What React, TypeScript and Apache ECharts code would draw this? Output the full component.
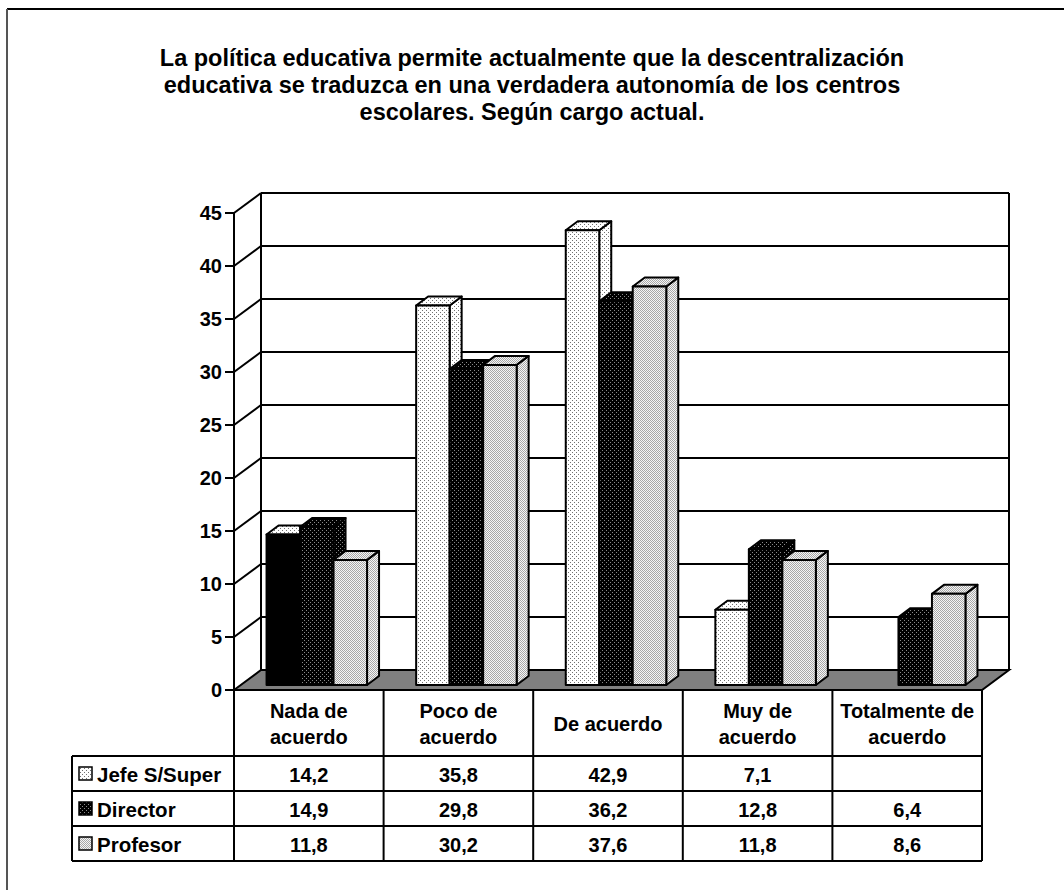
import React, { useEffect, useRef } from 'react';
import * as echarts from 'echarts';

// ---------- Data ----------
const titleLines = [
  'La política educativa permite actualmente que la descentralización',
  'educativa se traduzca en una verdadera autonomía de los centros',
  'escolares. Según cargo actual.',
];
const categories = ['Nada de\nacuerdo', 'Poco de\nacuerdo', 'De acuerdo', 'Muy de\nacuerdo', 'Totalmente de\nacuerdo'];
const seriesNames = ['Jefe S/Super', 'Director', 'Profesor'];
const jefeValues: (number | null)[] = [14.2, 35.8, 42.9, 7.1, null];
const directorValues: (number | null)[] = [14.9, 29.8, 36.2, 12.8, 6.4];
const profesorValues: (number | null)[] = [11.8, 30.2, 37.6, 11.8, 8.6];
const yTicks = [0, 5, 10, 15, 20, 25, 30, 35, 40, 45];

// ---------- Layout constants ----------
const FONT = '"Liberation Sans", Arial, Helvetica, sans-serif';
const GRID_LEFT = 234;
const GRID_RIGHT = 982;
const Y_TOP = 213;
const Y_BOTTOM = 690;
const WALL_DX = 27;
const WALL_DY = 20;
const BAR_OFF_X = 8;
const BAR_OFF_Y = 5;
const BAR_W = 33.5;
const BAR_DX = 12;
const BAR_DY = 9;
const TABLE_LEFT = 72;
const ROW_TOPS = [756, 791, 826, 861];

function makePattern(bg: string, dot: string, size: number, dots: number[][]) {
  const c = document.createElement('canvas');
  c.width = size;
  c.height = size;
  const ctx = c.getContext('2d')!;
  ctx.fillStyle = bg;
  ctx.fillRect(0, 0, size, size);
  ctx.fillStyle = dot;
  dots.forEach(([x, y]) => ctx.fillRect(x, y, 1, 1));
  return { image: c.toDataURL(), repeat: 'repeat', imageWidth: size, imageHeight: size } as any;
}

const fmt = (v: number | null) => (v == null ? '' : v.toFixed(1).replace('.', ','));

export default function App() {
  const ref = useRef<HTMLDivElement>(null);

  useEffect(() => {
    if (!ref.current) return;
    const chart = echarts.init(ref.current, undefined, { renderer: 'svg' });

    const patterns = [
      makePattern('#ffffff', '#707070', 4, [[0, 0], [2, 2]]),
      makePattern('#000000', '#8a8a8a', 4, [[0, 0], [2, 2]]),
      makePattern('#f6f6f6', '#a8a8a8', 2, [[0, 0], [1, 1]]),
    ];
    const allValues = [jefeValues, directorValues, profesorValues];

    const barSeries = allValues.map((vals, s) => ({
      type: 'custom',
      name: seriesNames[s],
      clip: false,
      encode: { x: 0, y: 1 },
      data: vals.map((v, i) => [i, v]).filter((d) => d[1] != null),
      renderItem: (params: any, api: any) => {
        const cat = api.value(0);
        const v = api.value(1);
        const base = api.coord([cat, 0]);
        const top = api.coord([cat, v]);
        const x = base[0] + BAR_OFF_X + (s - 1.5) * BAR_W;
        const yb = base[1] - BAR_OFF_Y;
        const yt = top[1] - BAR_OFF_Y;
        const fill = patterns[s];
        // the first front face in the reference renders as solid black
        const frontFill = s === 0 && cat === 0 ? '#000' : fill;
        const stroke = { stroke: '#000', lineWidth: 2, lineJoin: 'round' };
        return {
          type: 'group',
          children: [
            {
              type: 'polygon',
              shape: { points: [[x + BAR_W, yb], [x + BAR_W + BAR_DX, yb - BAR_DY], [x + BAR_W + BAR_DX, yt - BAR_DY], [x + BAR_W, yt]] },
              style: { fill, ...stroke },
            },
            {
              type: 'polygon',
              shape: { points: [[x, yt], [x + BAR_DX, yt - BAR_DY], [x + BAR_W + BAR_DX, yt - BAR_DY], [x + BAR_W, yt]] },
              style: { fill, ...stroke },
            },
            {
              type: 'rect',
              shape: { x, y: yt, width: BAR_W, height: yb - yt },
              style: { fill: frontFill, ...stroke },
            },
          ],
        };
      },
    }));

    const wallSeries = {
      type: 'custom',
      name: 'walls',
      clip: false,
      silent: true,
      encode: { x: 0, y: 1 },
      data: yTicks.map((t) => [0, t]),
      renderItem: (params: any, api: any) => {
        const cs = params.coordSys;
        const left = cs.x;
        const right = cs.x + cs.width;
        const v = api.value(1);
        const y = api.coord([0, v])[1];
        const y0 = api.coord([0, yTicks[0]])[1];
        const ls = { stroke: '#000', lineWidth: 2 };
        const children: any[] = [];
        if (v === yTicks[0]) {
          children.push({
            type: 'polygon',
            shape: { points: [[left, y], [left + WALL_DX, y - WALL_DY], [right + WALL_DX, y - WALL_DY], [right, y]] },
            style: { fill: '#808080', stroke: '#000', lineWidth: 2 },
          });
        } else {
          children.push({ type: 'line', shape: { x1: left, y1: y, x2: left + WALL_DX, y2: y - WALL_DY }, style: ls });
          children.push({ type: 'line', shape: { x1: left + WALL_DX, y1: y - WALL_DY, x2: right + WALL_DX, y2: y - WALL_DY }, style: ls });
        }
        if (v === yTicks[yTicks.length - 1]) {
          children.push({ type: 'line', shape: { x1: left + WALL_DX, y1: y0 - WALL_DY, x2: left + WALL_DX, y2: y - WALL_DY }, style: ls });
          children.push({ type: 'line', shape: { x1: right + WALL_DX, y1: y0 - WALL_DY, x2: right + WALL_DX, y2: y - WALL_DY }, style: ls });
        }
        return { type: 'group', children };
      },
    };

    // ---------- data table (graphic) ----------
    const colW = (GRID_RIGHT - GRID_LEFT) / categories.length;
    const tableEls: any[] = [];
    const tl = { stroke: '#000', lineWidth: 2 };
    for (let i = 0; i <= categories.length; i++) {
      const x = GRID_LEFT + i * colW;
      tableEls.push({ type: 'line', shape: { x1: x, y1: Y_BOTTOM, x2: x, y2: ROW_TOPS[ROW_TOPS.length - 1] }, style: tl });
    }
    ROW_TOPS.forEach((y) => {
      tableEls.push({ type: 'line', shape: { x1: TABLE_LEFT, y1: y, x2: GRID_RIGHT, y2: y }, style: tl });
    });
    tableEls.push({ type: 'line', shape: { x1: GRID_LEFT, y1: Y_BOTTOM, x2: GRID_RIGHT, y2: Y_BOTTOM }, style: tl });
    tableEls.push({ type: 'line', shape: { x1: TABLE_LEFT, y1: ROW_TOPS[0], x2: TABLE_LEFT, y2: ROW_TOPS[ROW_TOPS.length - 1] }, style: tl });
    allValues.forEach((vals, s) => {
      const yc = (ROW_TOPS[s] + ROW_TOPS[s + 1]) / 2;
      tableEls.push({
        type: 'rect',
        shape: { x: 79, y: yc - 6.5, width: 13, height: 13 },
        style: { fill: patterns[s], stroke: '#000', lineWidth: 1.5 },
      });
      tableEls.push({
        type: 'text',
        x: 97,
        y: yc + 1,
        style: { text: seriesNames[s], font: `bold 20.5px ${FONT}`, fill: '#000', textAlign: 'left', textVerticalAlign: 'middle' },
      });
      vals.forEach((v, i) => {
        tableEls.push({
          type: 'text',
          x: GRID_LEFT + (i + 0.5) * colW,
          y: yc + 1,
          style: { text: fmt(v), font: `bold 20px ${FONT}`, fill: '#000', textAlign: 'center', textVerticalAlign: 'middle' },
        });
      });
    });

    const option: any = {
      animation: false,
      backgroundColor: '#fff',
      title: {
        text: titleLines.join('\n'),
        left: 'center',
        top: 44,
        padding: 0,
        textStyle: { fontFamily: FONT, fontSize: 23.5, fontWeight: 'bold', color: '#000', lineHeight: 27 },
      },
      grid: { left: GRID_LEFT, right: 1064 - GRID_RIGHT, top: Y_TOP, bottom: 890 - Y_BOTTOM, containLabel: false },
      xAxis: {
        type: 'category',
        data: categories,
        axisLine: { show: false },
        axisTick: { show: false },
        splitLine: { show: false },
        axisLabel: {
          interval: 0,
          margin: 34,
          verticalAlign: 'middle',
          lineHeight: 26,
          fontFamily: FONT,
          fontSize: 20,
          fontWeight: 'bold',
          color: '#000',
        },
      },
      yAxis: {
        type: 'value',
        min: 0,
        max: 45,
        interval: 5,
        axisLine: { show: true, lineStyle: { color: '#000', width: 2 } },
        axisTick: { show: true, length: 9, lineStyle: { color: '#000', width: 2 } },
        splitLine: { show: false },
        axisLabel: { margin: 12, fontFamily: FONT, fontSize: 20, fontWeight: 'bold', color: '#000' },
      },
      graphic: [
        { type: 'line', shape: { x1: 7, y1: 9, x2: 1064, y2: 9 }, style: { stroke: '#000', lineWidth: 2 } },
        { type: 'line', shape: { x1: 7, y1: 9, x2: 7, y2: 890 }, style: { stroke: '#555', lineWidth: 2 } },
        ...tableEls,
      ],
      series: [wallSeries, ...barSeries],
    };
    chart.setOption(option);
    return () => chart.dispose();
  }, []);

  return <div ref={ref} style={{ position: 'absolute', left: 0, top: 0, width: 1064, height: 890 }} />;
}
